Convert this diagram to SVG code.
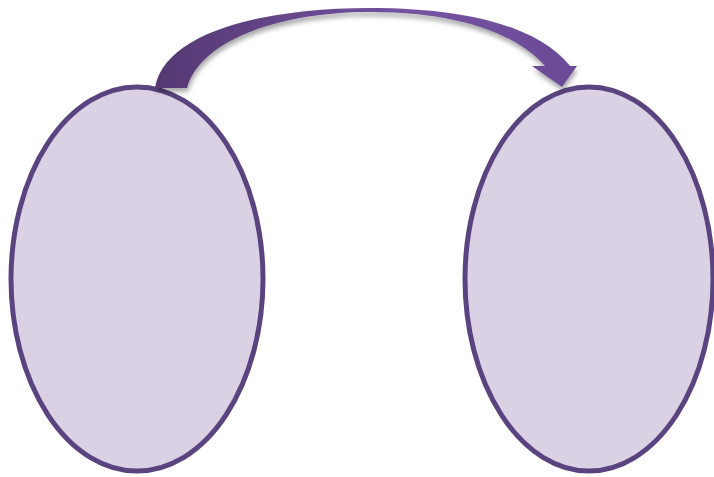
<svg xmlns="http://www.w3.org/2000/svg" width="714" height="477" viewBox="0 0 714 477">
  <defs>
    <style>
      .node ellipse { fill: #dbd1e5; stroke: #5a4480; stroke-width: 5; }
    </style>
    <linearGradient id="arrowGrad" x1="0" y1="0" x2="1" y2="0">
      <stop offset="0" stop-color="#553872"/>
      <stop offset="0.6" stop-color="#7453a0"/>
      <stop offset="1" stop-color="#6b4a96"/>
    </linearGradient>
    <filter id="shadow" x="-10%" y="-20%" width="120%" height="150%">
      <feGaussianBlur in="SourceAlpha" stdDeviation="2.5"/>
      <feOffset dx="1" dy="4" result="b"/>
      <feComponentTransfer><feFuncA type="linear" slope="0.35"/></feComponentTransfer>
      <feMerge><feMergeNode/><feMergeNode in="SourceGraphic"/></feMerge>
    </filter>
  </defs>
  <rect width="714" height="477" fill="#ffffff"/>
  <g id="node-left" class="node">
    <ellipse cx="137" cy="279" rx="126" ry="192"/>
  </g>
  <g id="node-right" class="node">
    <ellipse cx="589" cy="279" rx="124" ry="192"/>
  </g>
  <g id="connectors">
    <path filter="url(#shadow)" fill="url(#arrowGrad)" d="M155,88 C165,30 270,8 370,8 C470,8 540,28 570,66 L577,66 L562,87 L532,66 L545,66 C515,32 455,12 370,12 C280,12 200,40 187,88 Z"/>
  </g>
</svg>
